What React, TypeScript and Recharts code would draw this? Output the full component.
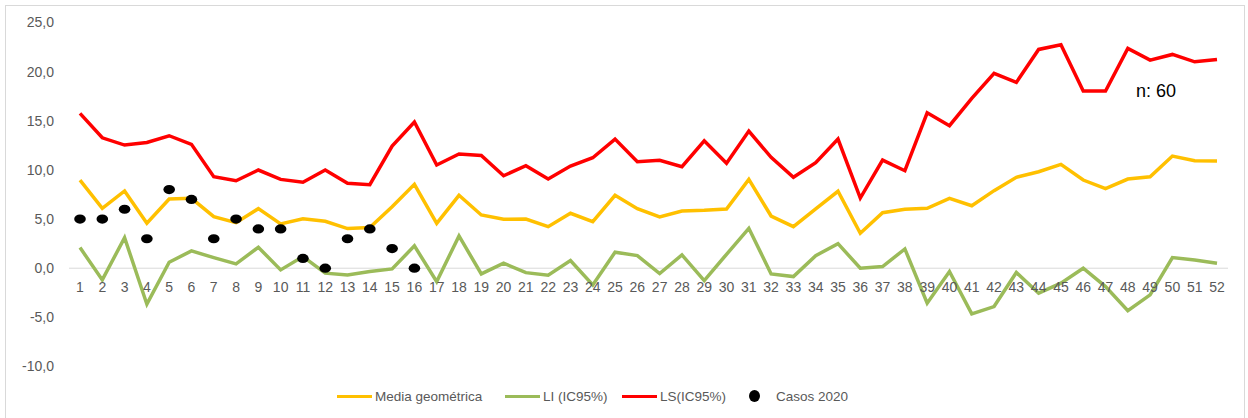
import { ComposedChart, Line, XAxis, YAxis, ReferenceLine } from "recharts";

const weeks = [
  "1", "2", "3", "4", "5", "6", "7", "8", "9", "10", "11", "12", "13",
  "14", "15", "16", "17", "18", "19", "20", "21", "22", "23", "24", "25", "26",
  "27", "28", "29", "30", "31", "32", "33", "34", "35", "36", "37", "38", "39",
  "40", "41", "42", "43", "44", "45", "46", "47", "48", "49", "50", "51", "52",
];

// Media geométrica
const media = [
  8.97, 6.1, 7.86, 4.57, 7.04, 7.11, 5.24, 4.64, 6.06, 4.5, 5.04, 4.77, 4.03,
  4.13, 6.26, 8.53, 4.57, 7.42, 5.42, 4.98, 5.01, 4.23, 5.59, 4.74, 7.42, 6.06,
  5.21, 5.82, 5.89, 6.03, 9.04, 5.31, 4.23, 6.03, 7.83, 3.56, 5.65, 6.0, 6.1,
  7.11, 6.36, 7.89, 9.25, 9.82, 10.57, 8.97, 8.09, 9.07, 9.31, 11.41, 10.93, 10.9,
];

// LI (IC95%)
const li = [
  2.1, -1.19, 3.11, -3.66, 0.61, 1.76, 1.08, 0.44, 2.13, -0.17, 1.18, -0.5, -0.68,
  -0.34, -0.07, 2.27, -1.36, 3.28, -0.58, 0.51, -0.45, -0.71, 0.77, -1.7, 1.63, 1.28,
  -0.54, 1.35, -1.26, 1.42, 4.06, -0.58, -0.85, 1.28, 2.5, 0, 0.17, 1.96, -3.56,
  -0.34, -4.64, -3.9, -0.44, -2.54, -1.52, 0, -1.87, -4.31, -2.71, 1.08, 0.84, 0.5,
];

// LS(IC95%)
const ls = [
  15.75, 13.27, 12.53, 12.8, 13.48, 12.6, 9.31, 8.9, 9.99, 9.04, 8.74, 9.99, 8.64,
  8.5, 12.43, 14.87, 10.5, 11.62, 11.48, 9.41, 10.43, 9.08, 10.4, 11.24, 13.14, 10.83,
  10.98, 10.33, 12.97, 10.67, 13.95, 11.28, 9.25, 10.73, 13.14, 7.14, 11.0, 9.92, 15.81,
  14.5, 17.28, 19.82, 18.9, 22.26, 22.73, 18.02, 18.02, 22.36, 21.17, 21.75, 21.0, 21.24,
];

// Casos 2020 (only first 16 weeks reported)
const casos: (number | null)[] = [5, 5, 6, 3, 8, 7, 3, 5, 4, 4, 1, 0, 3, 4, 2, 0];

const yTicks = [-10, -5, 0, 5, 10, 15, 20, 25];

const data = weeks.map((w, i) => ({
  week: w,
  media: media[i],
  li: li[i],
  ls: ls[i],
  casos: casos[i] ?? null,
}));

const W = 1248;
const H = 418;
const TOP = 22.5;
const PLOT_BOTTOM = 366.5;
const Y_MIN = -10;
const Y_MAX = 25;
const ZERO_Y = TOP + ((Y_MAX - 0) / (Y_MAX - Y_MIN)) * (PLOT_BOTTOM - TOP);

const FONT = "'Liberation Sans', Arial, sans-serif";
const GREY = "#595959";

const XTick = (props: any) => (
  <text
    x={props.x}
    y={ZERO_Y + 23.5}
    textAnchor="middle"
    fill={GREY}
    fontSize={14}
    fontFamily={FONT}
  >
    {props.payload.value}
  </text>
);

const CasosDot = (p: any) => {
  if (p.value == null || p.cy == null) return <g key={`c-${p.index}`} />;
  return <ellipse key={`c-${p.index}`} cx={p.cx} cy={p.cy} rx={5.8} ry={4.6} fill="#000" />;
};

const legendItems = [
  { label: "Media geométrica", color: "#FFC000", kind: "line", left: 337 },
  { label: "LI (IC95%)", color: "#9BBB59", kind: "line", left: 505 },
  { label: "LS(IC95%)", color: "#FF0000", kind: "line", left: 622 },
  { label: "Casos 2020", color: "#000", kind: "dot", left: 749 },
];

export default function App() {
  return (
    <div
      style={{
        position: "absolute",
        left: 0,
        top: 0,
        width: W,
        height: H,
        background: "#fff",
        overflow: "hidden",
        fontFamily: FONT,
      }}
    >
      <div
        style={{
          position: "absolute",
          left: 5,
          top: 5,
          width: 1240,
          height: 430,
          border: "1px solid #d9d9d9",
          boxSizing: "border-box",
        }}
      />
      <ComposedChart
        width={W}
        height={H}
        data={data}
        margin={{ top: TOP, right: 20, bottom: H - PLOT_BOTTOM - 30, left: 0 }}
      >
        <XAxis
          dataKey="week"
          height={30}
          axisLine={false}
          tickLine={false}
          interval={0}
          padding={{ left: 11, right: 11 }}
          tick={<XTick />}
        />
        <YAxis
          domain={[Y_MIN, Y_MAX]}
          ticks={yTicks}
          width={69}
          axisLine={false}
          tickLine={false}
          tickSize={0}
          tickMargin={15}
          tick={{ fill: GREY, fontSize: 14, fontFamily: FONT }}
          tickFormatter={(v) => Number(v).toFixed(1).replace(".", ",")}
        />
        <ReferenceLine y={0} stroke="#d9d9d9" strokeWidth={1} />
        <Line
          type="linear"
          dataKey="media"
          stroke="#FFC000"
          strokeWidth={3.5}
          dot={false}
          activeDot={false}
          isAnimationActive={false}
        />
        <Line
          type="linear"
          dataKey="li"
          stroke="#9BBB59"
          strokeWidth={3.5}
          dot={false}
          activeDot={false}
          isAnimationActive={false}
        />
        <Line
          type="linear"
          dataKey="ls"
          stroke="#FF0000"
          strokeWidth={3.5}
          dot={false}
          activeDot={false}
          isAnimationActive={false}
        />
        <Line
          type="linear"
          dataKey="casos"
          stroke="none"
          dot={CasosDot}
          activeDot={false}
          isAnimationActive={false}
        />
      </ComposedChart>
      <div
        style={{
          position: "absolute",
          left: 1136,
          top: 80,
          fontSize: 18,
          color: "#000",
          lineHeight: "22px",
        }}
      >
        n: 60
      </div>
      {legendItems.map((it) => (
        <div
          key={it.label}
          style={{
            position: "absolute",
            left: it.left,
            top: 387,
            height: 18,
            display: "flex",
            alignItems: "center",
            fontSize: 13.5,
            color: GREY,
            whiteSpace: "nowrap",
          }}
        >
          {it.kind === "line" ? (
            <span
              style={{ display: "inline-block", width: 35, height: 3, background: it.color, marginRight: 3 }}
            />
          ) : (
            <span
              style={{
                display: "inline-block",
                width: 11,
                height: 12,
                borderRadius: "50%",
                background: it.color,
                marginRight: 16,
              }}
            />
          )}
          <span>{it.label}</span>
        </div>
      ))}
    </div>
  );
}
